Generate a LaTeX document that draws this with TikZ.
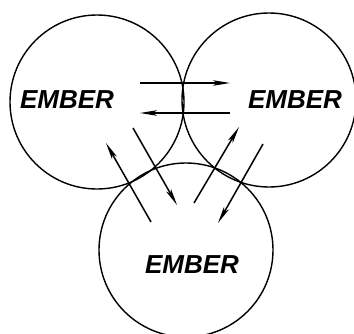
\documentclass[tikz,border=0pt]{standalone}
\usepackage{fontspec}
\setmainfont{Liberation Sans}
\usetikzlibrary{arrows.meta,positioning}

\begin{document}
\begin{tikzpicture}[x=1pt,y=-1pt,
    ring/.style={circle,draw,line width=1.4pt,minimum size=174pt,inner sep=0pt},
    word/.style={font=\fontsize{26}{26}\selectfont\bfseries\itshape,inner sep=0pt},
    flow/.style={-{Stealth[length=17pt,width=5.5pt,inset=4pt]},line width=1.5pt}]
    \useasboundingbox (0,0) rectangle (354,333);

    % the three circles
    \node[ring] (left) at (97,102) {};
    \node[ring] (right) at (269,100) {};
    \node[ring] (low) at (186,250) {};

    \node[word] (leftword) at (67,100) {EMBER};
    \node[word] (rightword) at (295,100) {EMBER};
    \node[word] (lowword) at (192,265) {EMBER};

    % arrow ends
    \coordinate (topa) at (140,83);
    \coordinate (topb) at (230,83);
    \coordinate (bota) at (230,113);
    \coordinate (botb) at (140,113);
    \coordinate (la) at (151,222);
    \coordinate (lb) at (106,143);
    \coordinate (lc) at (133,128);
    \coordinate (ld) at (177,205);
    \coordinate (ra) at (194,203);
    \coordinate (rb) at (239,127);
    \coordinate (rc) at (263,144);
    \coordinate (rd) at (218,223);

    \draw[flow] (topa) -- (topb);
    \draw[flow] (bota) -- (botb);
    \draw[flow] (la) -- (lb);
    \draw[flow] (lc) -- (ld);
    \draw[flow] (ra) -- (rb);
    \draw[flow] (rc) -- (rd);
\end{tikzpicture}
\end{document}
